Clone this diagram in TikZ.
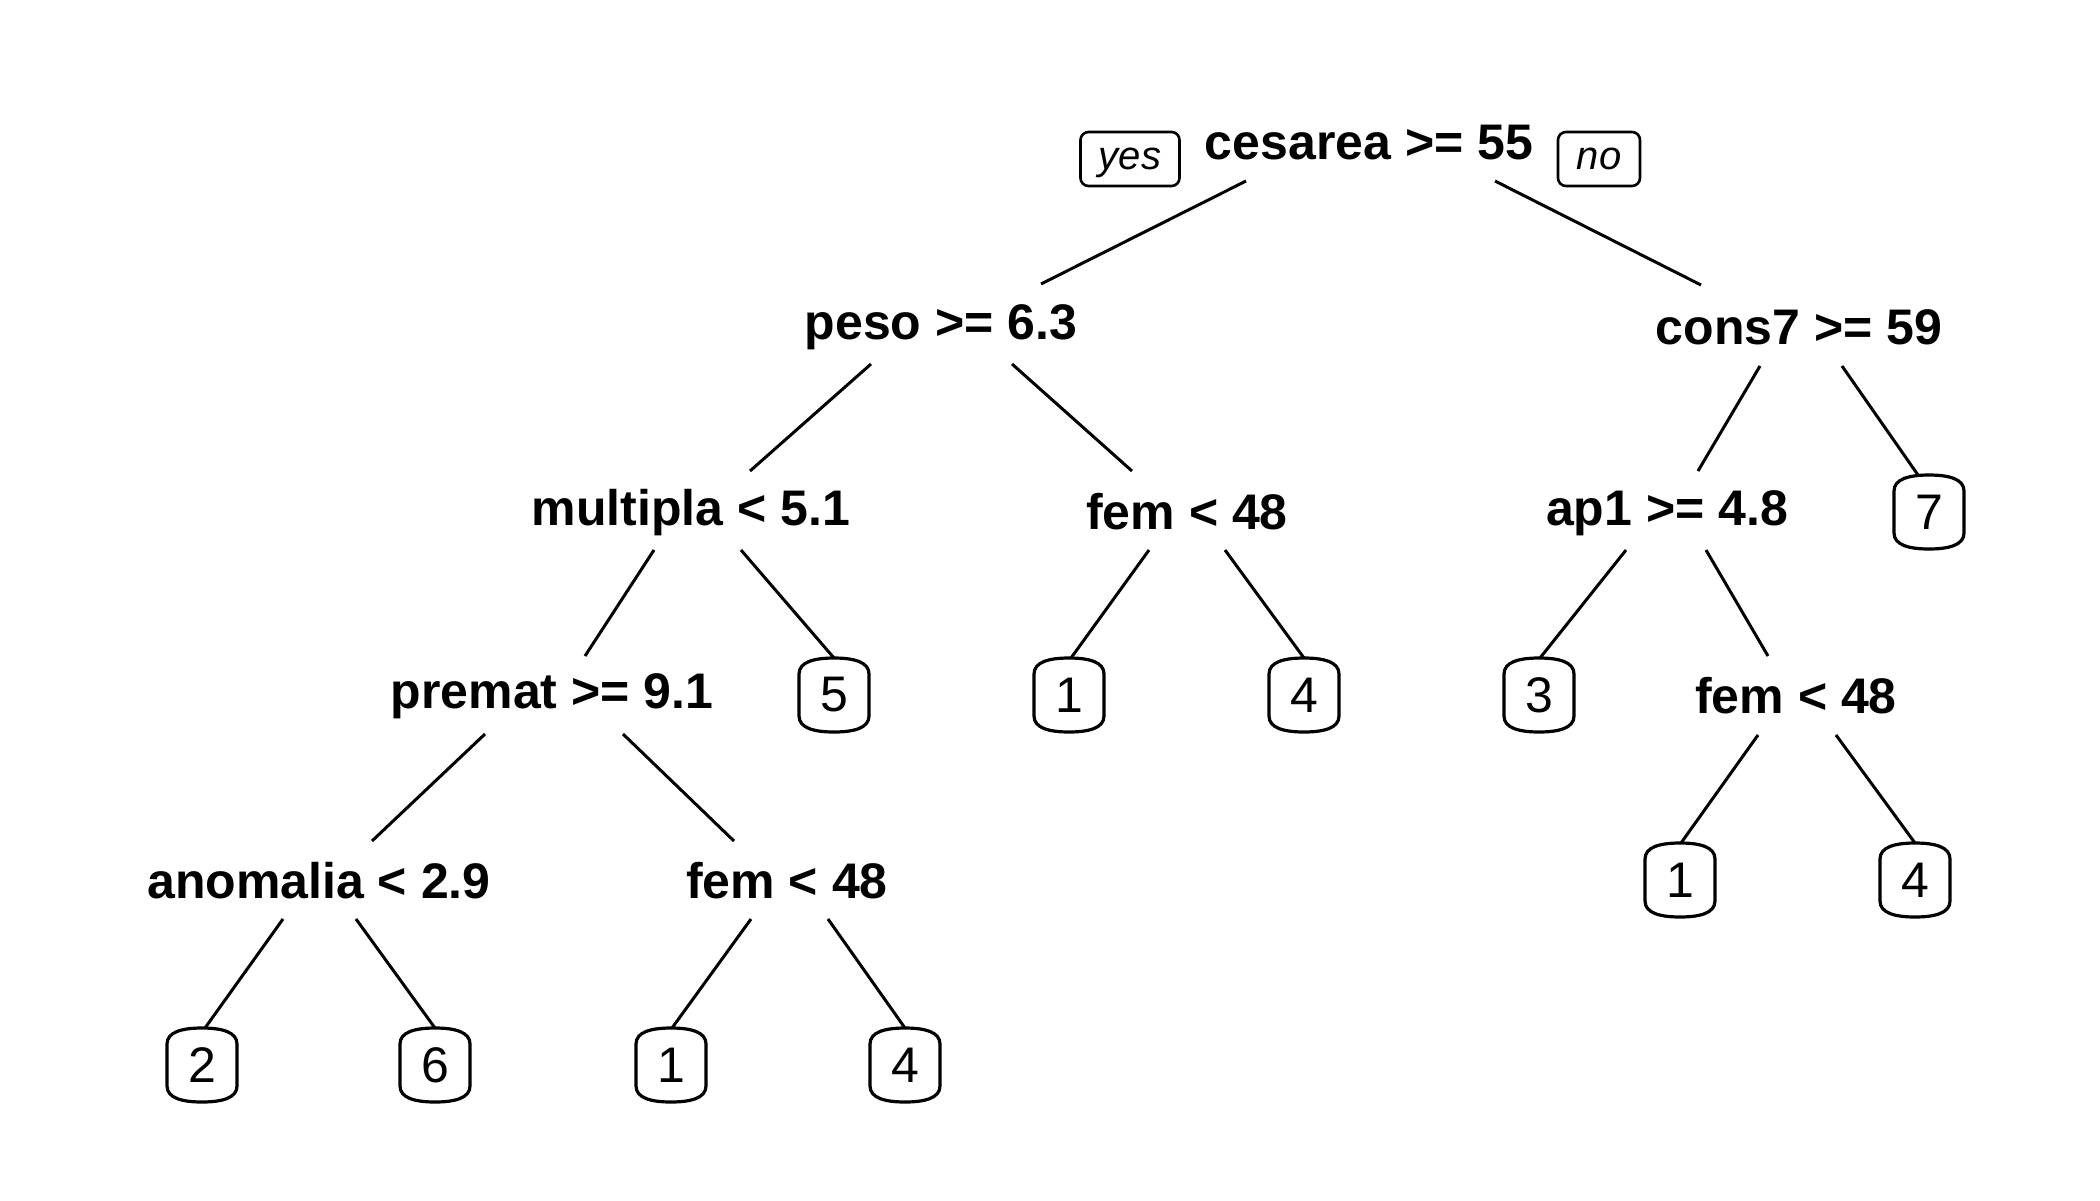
\documentclass[tikz,border=0pt]{standalone}
\usepackage{fontspec}
\setmainfont{Liberation Sans}
\usetikzlibrary{calc}
\tikzset{
  split/.style={inner sep=0pt, font=\bfseries\fontsize{25}{30}\selectfont},
  leaf/.style={inner sep=0pt, font=\fontsize{25}{30}\selectfont},
  lab/.style={draw, line width=1.3pt, rounded corners=4pt, inner sep=0pt, minimum height=27pt, text height=10.4pt, text depth=0pt, font=\itshape\fontsize{20}{24}\selectfont},
  edge/.style={line width=1.5pt},
  boxline/.style={line width=1.6pt}
}
\newcommand{\leafshape}[1]{\draw[boxline,shift={(#1.center)}] (-35,-21) .. controls (-35,-33) and (-20,-37) .. (0,-37) .. controls (20,-37) and (35,-33) .. (35,-21) -- (35,21) .. controls (35,33) and (20,37) .. (0,37) .. controls (-20,37) and (-35,33) .. (-35,21) -- cycle;}
\begin{document}
\begin{tikzpicture}[x=0.5pt,y=-0.5pt]
\useasboundingbox (0,0) rectangle (2100,1200);
% split nodes
\node[split] (root) at (1369,143) {cesarea >= 55};
\node[split] (peso) at (941,327) {peso >= 6.3};
\node[split] (cons7) at (1799,327) {cons7 >= 59};
\node[split] (multipla) at (691,513) {multipla < 5.1};
\node[split] (femA) at (1187,512) {fem < 48};
\node[split] (ap1) at (1667,513) {ap1 >= 4.8};
\node[split] (premat) at (552,696) {premat >= 9.1};
\node[split] (femB) at (1796,696) {fem < 48};
\node[split] (anomalia) at (319,881) {anomalia < 2.9};
\node[split] (femC) at (787,881) {fem < 48};
% yes / no
\node[lab, minimum width=49.5pt] (yes) at (1130,159) {yes};
\node[lab, minimum width=41pt] (no) at (1599,159) {no};
% leaves
\node[leaf] (L7) at (1929,512) {7};
\node[leaf] (L5) at (834,695) {5};
\node[leaf] (L1a) at (1069,695) {1};
\node[leaf] (L4a) at (1304,695) {4};
\node[leaf] (L3) at (1539,695) {3};
\node[leaf] (L1b) at (1680,880) {1};
\node[leaf] (L4b) at (1915,880) {4};
\node[leaf] (L2) at (202,1065) {2};
\node[leaf] (L6) at (435,1065) {6};
\node[leaf] (L1c) at (671,1065) {1};
\node[leaf] (L4c) at (905,1065) {4};
\foreach \n in {L7,L5,L1a,L4a,L3,L1b,L4b,L2,L6,L1c,L4c} {\leafshape{\n}}
% edges
\draw[edge] ($(root)+(-123,38)$) -- ($(peso)+(100,-43)$);
\draw[edge] ($(root)+(126,38)$) -- ($(cons7)+(-98,-42)$);
\draw[edge] ($(peso)+(-70,37)$) -- ($(multipla)+(59,-42)$);
\draw[edge] ($(peso)+(71,37)$) -- ($(femA)+(-55,-41)$);
\draw[edge] ($(cons7)+(-39,39)$) -- ($(ap1)+(31,-42)$);
\draw[edge] ($(cons7)+(43,39)$) -- ($(L7)+(-11,-37)$);
\draw[edge] ($(multipla)+(-37,37)$) -- ($(premat)+(33,-40)$);
\draw[edge] ($(multipla)+(50,37)$) -- ($(L5)+(0,-37)$);
\draw[edge] ($(femA)+(-38,38)$) -- ($(L1a)+(2,-37)$);
\draw[edge] ($(femA)+(38,38)$) -- ($(L4a)+(0,-37)$);
\draw[edge] ($(ap1)+(-41,37)$) -- ($(L3)+(1,-37)$);
\draw[edge] ($(ap1)+(39,37)$) -- ($(femB)+(-28,-40)$);
\draw[edge] ($(premat)+(-67,38)$) -- ($(anomalia)+(53,-40)$);
\draw[edge] ($(premat)+(71,38)$) -- ($(femC)+(-53,-40)$);
\draw[edge] ($(femB)+(-38,39)$) -- ($(L1b)+(1,-37)$);
\draw[edge] ($(femB)+(40,39)$) -- ($(L4b)+(0,-37)$);
\draw[edge] ($(anomalia)+(-36,38)$) -- ($(L2)+(3,-37)$);
\draw[edge] ($(anomalia)+(37,38)$) -- ($(L6)+(0,-37)$);
\draw[edge] ($(femC)+(-36,38)$) -- ($(L1c)+(1,-37)$);
\draw[edge] ($(femC)+(41,38)$) -- ($(L4c)+(0,-37)$);
\end{tikzpicture}
\end{document}
